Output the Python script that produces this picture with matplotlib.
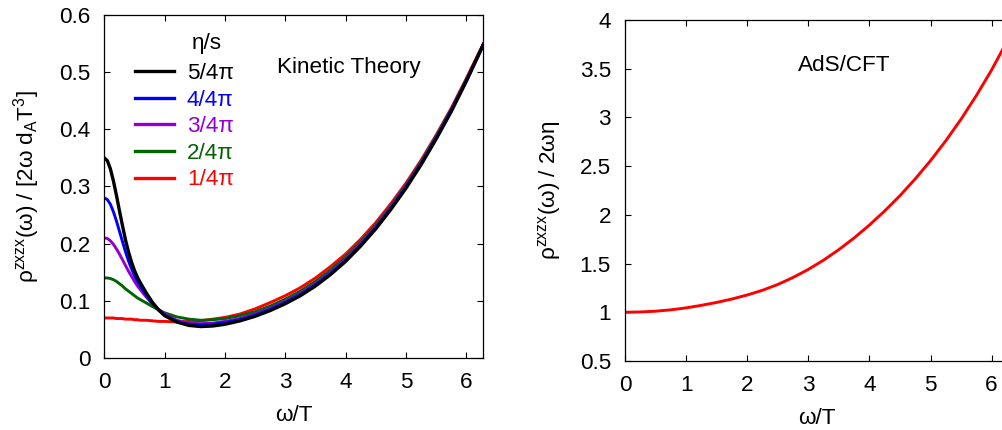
import matplotlib
matplotlib.use("Agg")
import matplotlib.pyplot as plt
import numpy as np

plt.rcParams['font.family'] = ['Liberation Sans', 'DejaVu Sans']
plt.rcParams['mathtext.default'] = 'regular'

# omega/T grid for the kinetic theory curves
w_kin = [0.0, 0.05, 0.1, 0.15, 0.2, 0.25, 0.3, 0.35, 0.4, 0.45, 0.5, 0.55, 0.6,
         0.7, 0.8, 0.9, 1.0, 1.2, 1.4, 1.6, 1.8, 2.0, 2.25, 2.5, 2.75, 3.0, 3.25,
         3.5, 3.75, 4.0, 4.25, 4.5, 4.75, 5.0, 5.25, 5.5, 5.75, 6.0, 6.283]

rho_5 = [0.350, 0.345, 0.331, 0.310, 0.285, 0.258, 0.232, 0.207, 0.186, 0.168, 0.153,
         0.141, 0.131, 0.113, 0.097, 0.084, 0.074, 0.063, 0.057, 0.055, 0.056, 0.059,
         0.065, 0.073, 0.083, 0.095, 0.109, 0.126, 0.146, 0.169, 0.196, 0.226, 0.260,
         0.297, 0.338, 0.383, 0.431, 0.484, 0.548]
rho_4 = [0.280, 0.277, 0.269, 0.256, 0.240, 0.222, 0.204, 0.186, 0.170, 0.156, 0.144,
         0.134, 0.125, 0.109, 0.095, 0.084, 0.075, 0.064, 0.059, 0.058, 0.059, 0.062,
         0.067, 0.075, 0.085, 0.097, 0.111, 0.128, 0.148, 0.171, 0.198, 0.228, 0.262,
         0.299, 0.340, 0.385, 0.433, 0.485, 0.548]
rho_3 = [0.210, 0.209, 0.205, 0.199, 0.191, 0.182, 0.172, 0.162, 0.152, 0.143, 0.134,
         0.126, 0.119, 0.106, 0.094, 0.085, 0.077, 0.066, 0.061, 0.060, 0.061, 0.064,
         0.069, 0.077, 0.087, 0.099, 0.113, 0.130, 0.150, 0.173, 0.200, 0.230, 0.264,
         0.301, 0.341, 0.386, 0.434, 0.486, 0.549]
rho_2 = [0.140, 0.140, 0.139, 0.137, 0.134, 0.130, 0.126, 0.121, 0.117, 0.113, 0.109,
         0.105, 0.102, 0.096, 0.090, 0.084, 0.079, 0.072, 0.068, 0.066, 0.067, 0.069,
         0.074, 0.081, 0.091, 0.103, 0.117, 0.134, 0.154, 0.177, 0.203, 0.233, 0.266,
         0.303, 0.343, 0.388, 0.435, 0.487, 0.549]
rho_1 = [0.070, 0.070, 0.070, 0.070, 0.069, 0.069, 0.069, 0.068, 0.068, 0.068, 0.067,
         0.067, 0.066, 0.066, 0.065, 0.064, 0.064, 0.063, 0.064, 0.065, 0.068, 0.071,
         0.077, 0.086, 0.097, 0.109, 0.123, 0.140, 0.160, 0.182, 0.208, 0.237, 0.270,
         0.306, 0.346, 0.390, 0.437, 0.489, 0.550]

eta_labels = ['5/4π', '4/4π', '3/4π', '2/4π', '1/4π']
eta_colors = ['#000000', '#0000ff', '#9400d3', '#006400', '#ff0000']

# AdS/CFT curve
w_ads = [0.0, 0.25, 0.5, 0.75, 1.0, 1.25, 1.5, 1.75, 2.0, 2.25, 2.5, 2.75, 3.0, 3.25,
         3.5, 3.75, 4.0, 4.25, 4.5, 4.75, 5.0, 5.25, 5.5, 5.75, 6.0, 6.283]
rho_ads = [1.000, 1.003, 1.011, 1.025, 1.045, 1.071, 1.101, 1.136, 1.177, 1.226, 1.285,
           1.357, 1.440, 1.535, 1.643, 1.763, 1.895, 2.040, 2.197, 2.369, 2.556, 2.760,
           2.982, 3.224, 3.487, 3.817]

left_yticks = [0, 0.1, 0.2, 0.3, 0.4, 0.5, 0.6]
left_ylabels = ['0', '0.1', '0.2', '0.3', '0.4', '0.5', '0.6']
right_yticks = [0.5, 1, 1.5, 2, 2.5, 3, 3.5, 4]
right_ylabels = ['0.5', '1', '1.5', '2', '2.5', '3', '3.5', '4']
xticks = [0, 1, 2, 3, 4, 5, 6]

FS = 16.2

fig = plt.figure(figsize=(10.03, 4.30), dpi=100)
ax1 = fig.add_axes([0.104, 0.1674, 0.378, 0.798])
ax2 = fig.add_axes([0.6231, 0.1605, 0.3828, 0.793])

for ax in (ax1, ax2):
    ax.tick_params(direction='in', top=True, right=True, length=4.5, width=0.8,
                   labelsize=FS)
    ax.tick_params(axis='x', pad=10)
    ax.tick_params(axis='y', pad=10)
    for sp in ax.spines.values():
        sp.set_linewidth(0.9)
    ax.set_xlim(0, 2 * np.pi)
    ax.set_xticks(xticks)
    ax.set_xticklabels([str(t) for t in xticks])
    ax.set_xlabel('ω/T', fontsize=FS, labelpad=9)

# kinetic theory panel: smallest eta/s drawn first, largest on top
series = [rho_5, rho_4, rho_3, rho_2, rho_1]
handles = [None] * len(series)
for i in reversed(range(len(series))):
    lw = 2.4 if i == 0 else 2.1
    h, = ax1.plot(w_kin, series[i], color=eta_colors[i], lw=lw, label=eta_labels[i])
    handles[i] = h

ax1.set_ylim(0, 0.6)
ax1.set_yticks(left_yticks)
ax1.set_yticklabels(left_ylabels)
ax1.set_ylabel(r'ρ$^{zxzx}$(ω) / [2ω d$_A$T$^3$]', fontsize=FS, labelpad=12)

leg = ax1.legend(handles=handles, loc='upper left', bbox_to_anchor=(0.081, 0.86),
                 frameon=False, fontsize=FS, handlelength=1.75, handletextpad=0.55,
                 labelspacing=0.25, borderpad=0, borderaxespad=0,
                 labelcolor='linecolor')
for line in leg.get_lines():
    line.set_linewidth(2.4)
ax1.text(0.231, 0.918, 'η/s', transform=ax1.transAxes, fontsize=FS,
         ha='left', va='center')
ax1.text(0.455, 0.848, 'Kinetic Theory', transform=ax1.transAxes, fontsize=FS,
         ha='left', va='center')

# AdS/CFT panel
ax2.plot(w_ads, rho_ads, color='#ff0000', lw=2.1)
ax2.set_ylim(0.5, 4)
ax2.set_yticks(right_yticks)
ax2.set_yticklabels(right_ylabels)
ax2.set_ylabel(r'ρ$^{zxzx}$(ω) / 2ωη', fontsize=FS, labelpad=12)
ax2.text(0.450, 0.866, 'AdS/CFT', transform=ax2.transAxes, fontsize=FS,
         ha='left', va='center')

fig.savefig('out.png', dpi=100)
